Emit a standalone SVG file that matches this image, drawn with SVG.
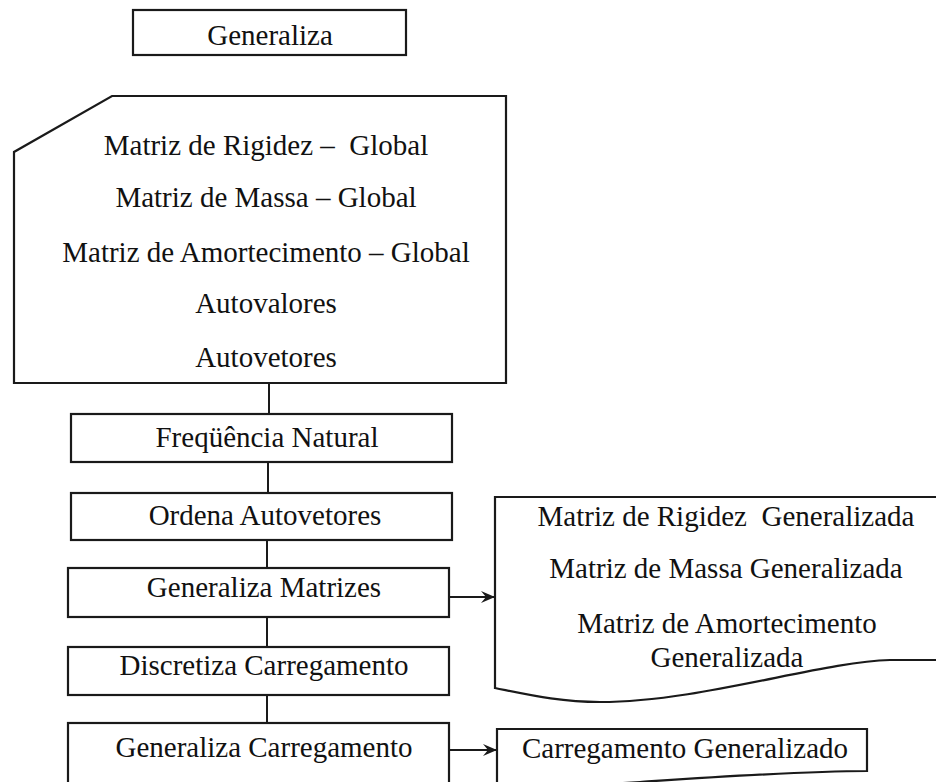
<svg xmlns="http://www.w3.org/2000/svg" width="936" height="782" viewBox="0 0 936 782">
<defs>
<style>
.s{fill:#fff;stroke:#1a1a1a;stroke-width:2.2}
.t{font-family:"Liberation Serif","Times New Roman",serif;font-size:29px;fill:#111;text-anchor:middle;white-space:pre}
.c{fill:none;stroke:#1a1a1a;stroke-width:2}
</style>
<marker id="ah" markerUnits="userSpaceOnUse" markerWidth="16" markerHeight="14" refX="14" refY="6" orient="auto">
<path d="M0,0 L14,6 L0,12 L5,6 Z" fill="#1a1a1a"/>
</marker>
</defs>
<rect width="936" height="782" fill="#fff"/>
<g id="connectors">
<line class="c" x1="269" y1="383" x2="269" y2="414"/>
<line class="c" x1="268" y1="462" x2="268" y2="493"/>
<line class="c" x1="267" y1="540" x2="267" y2="568"/>
<line class="c" x1="267" y1="617" x2="267" y2="647"/>
<line class="c" x1="267" y1="695" x2="267" y2="723"/>
<line class="c" x1="449" y1="597" x2="495" y2="597" marker-end="url(#ah)"/>
<line class="c" x1="449" y1="750" x2="497" y2="750" marker-end="url(#ah)"/>
</g>
<g id="generaliza">
<rect class="s" x="133" y="10" width="273" height="45"/>
<text class="t" x="270" y="45">Generaliza</text>
</g>
<g id="matrizes-globais">
<path class="s" d="M112,96 H506 V383 H14 V152 Z"/>
<text class="t" x="266" y="155">Matriz de Rigidez –  Global</text>
<text class="t" x="266" y="207">Matriz de Massa – Global</text>
<text class="t" x="266" y="262">Matriz de Amortecimento – Global</text>
<text class="t" x="266" y="313">Autovalores</text>
<text class="t" x="266" y="367">Autovetores</text>
</g>
<g id="frequencia">
<rect class="s" x="71" y="414" width="381" height="48"/>
<text class="t" x="267" y="447">Freqüência Natural</text>
</g>
<g id="ordena">
<rect class="s" x="71" y="493" width="381" height="47"/>
<text class="t" x="265" y="525">Ordena Autovetores</text>
</g>
<g id="generaliza-matrizes">
<rect class="s" x="68" y="568" width="381" height="49"/>
<text class="t" x="264" y="597">Generaliza Matrizes</text>
</g>
<g id="discretiza">
<rect class="s" x="68" y="647" width="381" height="48"/>
<text class="t" x="264" y="675">Discretiza Carregamento</text>
</g>
<g id="generaliza-carregamento">
<rect class="s" x="68" y="723" width="381" height="80"/>
<text class="t" x="264" y="757">Generaliza Carregamento</text>
</g>
<g id="matrizes-generalizadas">
<path class="s" d="M495,497 H945 V660 H890 C820,662 700,702 600,702 C560,702 530,695 495,688 Z"/>
<text class="t" x="726" y="526">Matriz de Rigidez  Generalizada</text>
<text class="t" x="726" y="578">Matriz de Massa Generalizada</text>
<text class="t" x="727" y="633">Matriz de Amortecimento</text>
<text class="t" x="727" y="667">Generalizada</text>
</g>
<g id="carregamento-generalizado">
<path class="s" d="M497,729 H867 V771 C800,771 700,778 640,782 C580,786 530,788 497,786 Z"/>
<text class="t" x="685" y="758">Carregamento Generalizado</text>
</g>
</svg>
